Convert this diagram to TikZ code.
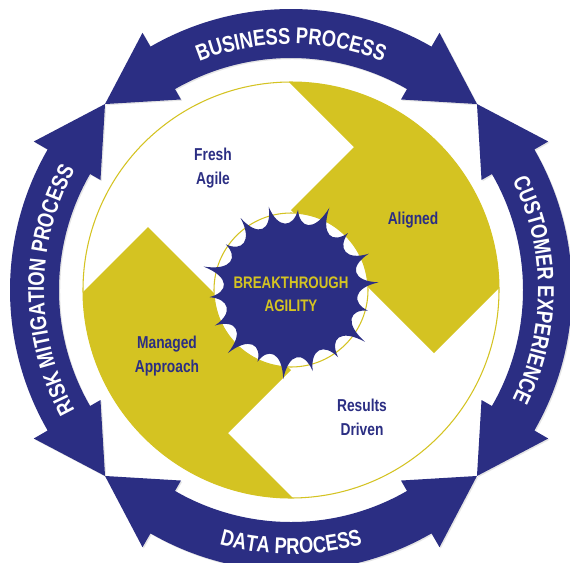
\documentclass[tikz,border=0pt]{standalone}
\usepackage{fontspec}
\setmainfont{Liberation Sans}
\newfontfamily\condfont{Liberation Sans}[FakeStretch=0.8]
\newfontfamily\bandfont{Liberation Sans}[FakeStretch=0.8]
\usetikzlibrary{decorations.text,shadows}
\definecolor{navy}{RGB}{43,46,131}
\definecolor{mustard}{RGB}{212,195,34}

\begin{document}
\begin{tikzpicture}[x=0.02cm,y=0.02cm]
\tikzset{band arrow/.style={fill=navy, drop shadow={opacity=0.2,shadow xshift=0.7pt,shadow yshift=-0.7pt}},
  inner label/.style={text=navy, font=\condfont\bfseries\fontsize{9.8}{13.6}\selectfont, align=center},
  core label/.style={text=mustard, font=\condfont\bfseries\fontsize{9.5}{13}\selectfont, align=center},
  ring label/.style={decorate, decoration={text along path, text align=center,
      text={|\bandfont\bfseries\fontsize{13}{15}\selectfont\color{white}|#1}}}}

\useasboundingbox (-291,-272) rectangle (279,290);
\fill[white] (-291,-272) rectangle (279,290);

\begin{scope}
\clip (0,0) circle[radius=208];
\fill[mustard] (0,80) -- (143,-63) -- (303,97) -- (0,400) -- (-97,303) -- (63,143) -- cycle;
\fill[mustard] (0,-80) -- (-143,63) -- (-303,-97) -- (0,-400) -- (97,-303) -- (-63,-143) -- cycle;
\end{scope}
\draw[mustard, line width=0.6pt] (0,0) circle[radius=208];
\draw[mustard, line width=0.6pt, fill=white] (0,0) circle[radius=77];

\foreach \a in {90,0,-90,180} {
  \path[band arrow] (\a-30:232) arc[start angle=\a-30, end angle=\a+30, radius=232]
    -- (\a+30:220) -- (\a+45:263) -- (\a+30:297) -- (\a+30:281)
    arc[start angle=\a+30, end angle=\a-30, radius=281]
    -- (\a-30:297) -- (\a-45:263) -- (\a-30:220) -- cycle;
}

\path[ring label=BUSINESS PROCESS] (135:246) arc[start angle=135, end angle=45, radius=246];
\path[ring label=CUSTOMER EXPERIENCE] (45:247) arc[start angle=45, end angle=-45, radius=247];
\path[ring label=DATA PROCESS] (225:264) arc[start angle=225, end angle=315, radius=264];
\path[ring label=RISK MITIGATION PROCESS] (225:247) arc[start angle=225, end angle=135, radius=247];

\fill[navy] (5:88) foreach \k in {1,...,18} {
  .. controls ({\k*20-12}:62) and ({\k*20+2}:62) .. ({\k*20+5}:{85+5*sin(140*\k)+3*cos(220*\k)}) } -- cycle;

\node[inner label] (fresh) at (-78,122) {Fresh\\Agile};
\node[inner label] (aligned) at (122,70) {Aligned};
\node[inner label] (managed) at (-124,-66) {Managed\\Approach};
\node[inner label] (results) at (71,-127) {Results\\Driven};
\node[core label] (core) at (0,-4) {BREAKTHROUGH\\AGILITY};
\end{tikzpicture}
\end{document}
